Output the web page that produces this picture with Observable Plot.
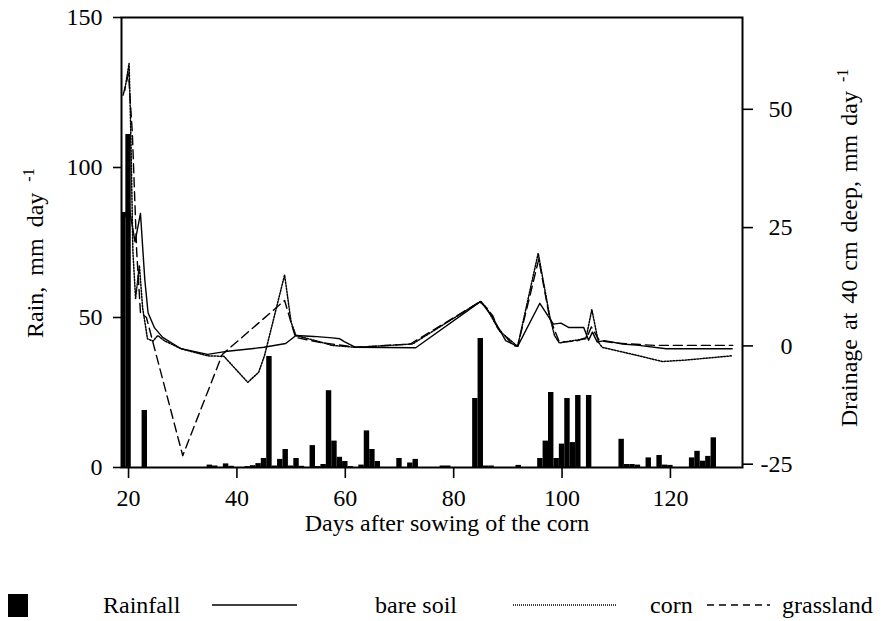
<!DOCTYPE html>
<html>
<head>
<meta charset="utf-8">
<script src="https://cdn.jsdelivr.net/npm/d3@7"></script>
<script src="https://cdn.jsdelivr.net/npm/@observablehq/plot@0.6"></script>
<style>
  body { margin: 0; background: #fff; }
  #wrap { position: relative; width: 886px; height: 621px; font-family: 'Liberation Serif', serif; }
  #wrap > svg { position: absolute; left: 0; }
</style>
</head>
<body>
<div id="wrap"></div>
<script>
// ---------- data ----------
const rainDays = [19, 20, 23, 35, 36, 38, 39, 42, 43, 44, 45, 46, 47, 48, 49, 50, 51, 52, 54, 55, 56, 57, 58, 59, 60, 61, 63, 64, 65, 66, 70, 72, 73, 78, 79, 84, 85, 86, 87, 92, 96, 97, 98, 99, 100, 101, 102, 103, 105, 111, 112, 113, 114, 116, 118, 119, 120, 124, 125, 126, 127, 128];
const rainMm   = [85, 111, 19, 0.8, 0.5, 1.2, 0.4, 0.3, 0.6, 1.3, 3, 37, 0.5, 2.7, 6, 0.5, 3, 0.4, 7.3, 0.3, 1, 25.6, 8.8, 3.4, 2, 0.3, 0.8, 12.2, 6, 2, 3, 1.5, 2.7, 0.5, 0.5, 23, 43, 0.5, 0.5, 0.7, 3, 8.8, 25, 3, 7.8, 23, 8.3, 24, 24, 9.4, 1, 1, 0.8, 3.2, 4, 0.8, 0.7, 3.2, 5.4, 2.1, 3.7, 9.9];

const bareDays = [19, 20, 21.2, 22.2, 23, 23.6, 24.8, 26.3, 29.7, 34.6, 37.8, 45, 49, 50.9, 54.2, 57.6, 59, 59.8, 61.9, 73, 85, 87.2, 89.6, 91.8, 95.9, 98.4, 99.8, 101.2, 104, 104.9, 105.6, 106.5, 107.8, 111.2, 114.2, 119.2, 131.4];
const bareVals = [26, 30, 22, 28, 14, 7, 3.8, 1.8, -0.6, -1.8, -1.2, -0.3, 0.5, 2.2, 2.0, 1.7, 1.5, 0.9, -0.3, -0.4, 9.4, 6.0, 1.1, -0.1, 9.0, 4.6, 4.8, 3.9, 3.9, 1.2, 2.9, 0.8, 1.1, 0.4, 0.1, -0.6, -0.6];

const cornDays = [19.3, 20.1, 20.4, 20.8, 21.3, 22, 22.6, 23.5, 24.5, 25.4, 26.6, 29.7, 34.6, 37.6, 42, 44, 45.1, 48.8, 50, 50.9, 55.5, 57.6, 62, 72.4, 84.8, 86, 88.4, 91.8, 95.6, 97.7, 98.6, 99.5, 102, 104.4, 105.5, 106.7, 107.4, 111.2, 114.2, 118.5, 122.8, 131.3];
const cornVals = [54, 59.7, 46, 20, 10, 17, 8, 1.5, 1.0, 2.2, 1.1, -0.6, -2.1, -2.2, -7.7, -5.6, -2, 15, 5, 2.2, 0.8, 0.1, -0.3, 0.4, 9.3, 8.2, 3.2, -0.1, 19.6, 6.4, 2.2, 0.6, 1.1, 1.5, 7.7, 0.8, -0.3, -1.3, -2.1, -3.3, -3.0, -2.1];

const grassDays = [19, 20, 20.7, 21.5, 22.2, 23.3, 30, 37.3, 48.8, 50.8, 55, 62, 72, 85, 87.2, 88.1, 91, 91.8, 95.7, 97.7, 99.5, 102.5, 104.6, 105.4, 106.9, 110, 117, 131.5];
const grassVals = [53, 57.5, 45, 20, 7, 6, -23.2, -1.8, 9.6, 1.8, 0.8, -0.3, 0.4, 9.4, 6.4, 3.9, 0.1, -0.1, 18.3, 6, 0.8, 1.0, 1.8, 4, 1.1, 0.6, 0.1, 0.1];

const xTicks = [20, 40, 60, 80, 100, 120];
const rainTicks = [0, 50, 100, 150];
const drainTicks = [-25, 0, 25, 50];

const legendLabels = ["Rainfall", "bare soil", "corn", "grassland"];

// ---------- tables ----------
const rain = rainDays.map((d, i) => ({day: d, mm: rainMm[i]}));
const toSeries = (days, vals) => days.map((d, i) => ({day: d, v: vals[i]}));
const bare = toSeries(bareDays, bareVals);
const corn = toSeries(cornDays, cornVals);
const grass = toSeries(grassDays, grassVals);

const FONT = "'Liberation Serif', serif";
const W = 886, H = 550;
const common = {
  width: W, height: H,
  marginTop: 17, marginRight: 144, marginBottom: 83, marginLeft: 121,
  style: {fontFamily: FONT, fontSize: "24px", background: "transparent", overflow: "visible", color: "black"}
};
const axisFont = {fontFamily: FONT, fontSize: 24, fontVariant: "normal", tickFormat: d => String(d)};

const p1 = Plot.plot({
  ...common,
  x: {domain: [18.7, 133.3]},
  y: {domain: [0, 150]},
  marks: [
    Plot.rect(rain, {x1: d => d.day - 0.5, x2: d => d.day + 0.5, y1: 0, y2: "mm", fill: "black", clip: true}),
    Plot.frame({stroke: "black", strokeWidth: 2}),
    Plot.axisX({ticks: xTicks, tickSize: 11, tickPadding: 10, strokeWidth: 1.6, label: null, ...axisFont}),
    Plot.axisY({anchor: "left", ticks: rainTicks, tickSize: 8, tickPadding: 11, strokeWidth: 1.6, label: null, ...axisFont})
  ]
});

const p2 = Plot.plot({
  ...common,
  x: {domain: [18.7, 133.3], axis: null},
  y: {domain: [-25.7, 69.4]},
  marks: [
    Plot.line(bare, {x: "day", y: "v", stroke: "black", strokeWidth: 1.4}),
    Plot.line(corn, {x: "day", y: "v", stroke: "black", strokeWidth: 1.5, strokeDasharray: "1.5,1.5"}),
    Plot.line(grass, {x: "day", y: "v", stroke: "black", strokeWidth: 1.4, strokeDasharray: "9,5"}),
    Plot.axisY({anchor: "right", ticks: drainTicks, tickSize: 10, tickPadding: 40, textAnchor: "end", strokeWidth: 1.6, label: null, ...axisFont})
  ]
});

const wrap = document.getElementById("wrap");
p1.style.top = "0px"; p2.style.top = "0px";
wrap.appendChild(p1);
wrap.appendChild(p2);

// axis titles
const s1 = d3.select(p1);
s1.append("text")
  .attr("x", 447).attr("y", 531)
  .attr("text-anchor", "middle")
  .attr("font-size", 24).attr("fill", "black")
  .text("Days after sowing of the corn");

const lt = s1.append("text")
  .attr("transform", "translate(43,338) rotate(-90)")
  .attr("text-anchor", "start")
  .attr("font-size", 24).attr("fill", "black")
  .attr("word-spacing", "5px");
lt.append("tspan").text("Rain, mm day ");
lt.append("tspan").attr("dy", -9).attr("font-size", 16).text("-1");

const rt = s1.append("text")
  .attr("transform", "translate(857,427) rotate(-90)")
  .attr("text-anchor", "start")
  .attr("font-size", 24).attr("fill", "black")
  .attr("word-spacing", "3px");
rt.append("tspan").text("Drainage at 40 cm deep, mm day ");
rt.append("tspan").attr("dy", -9).attr("font-size", 16).text("-1");

// legend
const lg = d3.select(wrap).append("svg")
  .attr("width", W).attr("height", 621 - H)
  .style("top", H + "px");
const ly = 55, tb = 63;
lg.append("rect").attr("x", 8).attr("y", 44).attr("width", 20).attr("height", 23).attr("fill", "black");
const lineItems = [
  {x1: 212, x2: 297, dash: null, w: 1.3},
  {x1: 513, x2: 617, dash: "1,1", w: 1.3},
  {x1: 707, x2: 770, dash: "7,5", w: 1.3}
];
lineItems.forEach(d => {
  const l = lg.append("line").attr("x1", d.x1).attr("x2", d.x2).attr("y1", ly).attr("y2", ly)
    .attr("stroke", "black").attr("stroke-width", d.w);
  if (d.dash) l.attr("stroke-dasharray", d.dash);
});
const labelX = [103, 375, 650, 782];
legendLabels.forEach((t, i) => {
  lg.append("text").attr("x", labelX[i]).attr("y", tb)
    .attr("font-size", 24).attr("fill", "black").text(t);
});

// force the serif face on every text
d3.selectAll("#wrap text").style("font-family", FONT).style("font-variant", "normal");
</script>
</body>
</html>
